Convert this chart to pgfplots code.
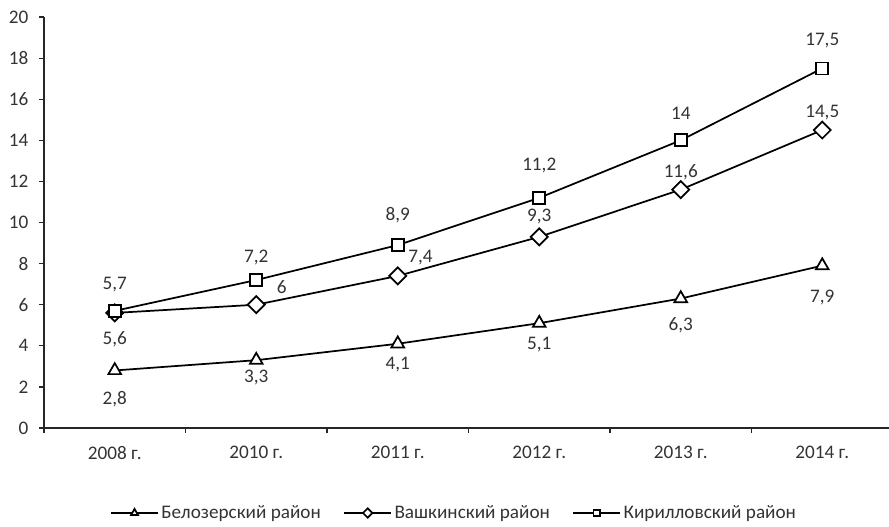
\documentclass[border=0pt]{standalone}
\usepackage{fontspec}
\setmainfont{Carlito}
\usepackage{pgfplots}
\pgfplotsset{compat=1.18}
\definecolor{txt}{HTML}{333333}
\newcommand{\chartfont}{\fontsize{14.4pt}{17pt}\selectfont}
\begin{document}
\chartfont
\begin{tikzpicture}
\useasboundingbox (-33pt,-73.5pt) rectangle (633.75pt,321pt);
\begin{axis}[
  scale only axis, width=636.75pt, height=308.25pt,
  at={(0,0)}, anchor=south west,
  xmin=-0.5, xmax=5.5, ymin=0, ymax=20,
  axis x line=bottom, axis y line=left,
  axis line style={-, line width=0.9pt, black!85},
  xtick={-0.5,0.5,...,5.5},
  x tick label as interval=true,
  xticklabels={2008 г.,2010 г.,2011 г.,2012 г.,2013 г.,2014 г.},
  ytick={0,2,...,20},
  tick align=outside,
  major tick length=3.75pt,
  tick style={line width=0.9pt, black!85},
  /pgf/number format/assume math mode=true,
  ticklabel style={font=\chartfont, text=txt},
  yticklabel style={xshift=-3pt},
  xticklabel style={yshift=-5pt},
  clip=false,
  legend columns=3,
  legend style={at={(0.4835,-0.2068)}, anchor=center, draw=none, fill=none,
    font=\chartfont, text=txt,
    /tikz/every even column/.append style={column sep=15pt},
    /tikz/every odd column/.append style={column sep=0pt}},
  legend image code/.code={%
    \draw[mark repeat=2,mark phase=2,#1,/tikz/every mark/.append style={scale=0.55}]
      plot coordinates {(0pt,0pt) (17.5pt,0pt) (35pt,0pt)};},
]
\addplot[black, line width=1.3pt, mark=triangle*, mark size=5.5pt,
  mark options={fill=white, line width=1.3pt}]
  coordinates {(0,2.8) (1,3.3) (2,4.1) (3,5.1) (4,6.3) (5,7.9)};
\addlegendentry{Белозерский район}
\addplot[black, line width=1.3pt, mark=square*, mark size=4.5pt,
  mark options={fill=white, line width=1.3pt, rotate=45}]
  coordinates {(0,5.6) (1,6) (2,7.4) (3,9.3) (4,11.6) (5,14.5)};
\addlegendentry{Вашкинский район}
\addplot[black, line width=1.3pt, mark=square*, mark size=4.5pt,
  mark options={fill=white, line width=1.3pt}]
  coordinates {(0,5.7) (1,7.2) (2,8.9) (3,11.2) (4,14) (5,17.5)};
\addlegendentry{Кирилловский район}
\begin{scope}[every node/.style={text=txt, font=\chartfont}]
% Кирилловский
\node at (axis cs:0,6.96) {5,7};
\node at (axis cs:1,8.32) {7,2};
\node at (axis cs:2,10.37) {8,9};
\node at (axis cs:3,12.75) {11,2};
\node at (axis cs:4,15.33) {14};
\node at (axis cs:5,18.83) {17,5};
% Вашкинский
\node at (axis cs:0,4.33) {5,6};
\node at (axis cs:1.18,6.86) {6};
\node at (axis cs:2.16,8.27) {7,4};
\node at (axis cs:3,10.27) {9,3};
\node at (axis cs:4,12.46) {11,6};
\node at (axis cs:5,15.33) {14,5};
% Белозерский
\node at (axis cs:0,1.41) {2,8};
\node at (axis cs:1,2.48) {3,3};
\node at (axis cs:2,3.07) {4,1};
\node at (axis cs:3,4.04) {5,1};
\node at (axis cs:4,5.01) {6,3};
\node at (axis cs:5,6.37) {7,9};
\end{scope}
\end{axis}
\end{tikzpicture}
\end{document}
